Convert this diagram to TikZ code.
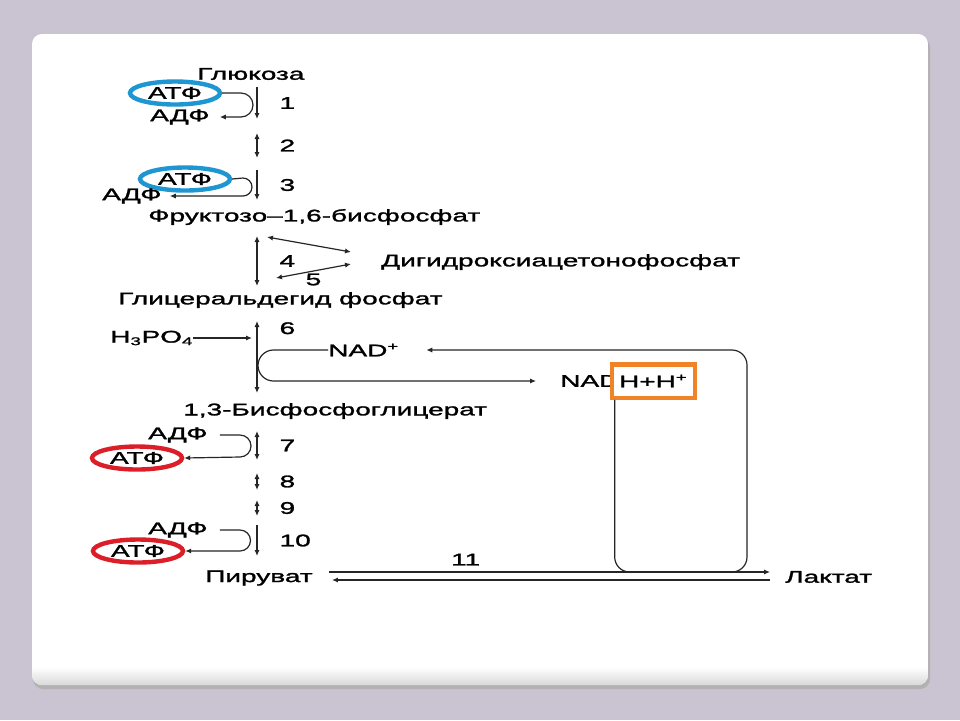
\documentclass[tikz,border=0pt]{standalone}
\usepackage{fontspec}
\setmainfont{Liberation Sans}
\newfontfamily\chemfont[FakeStretch=1.66,FakeBold=1.5]{Liberation Sans}
\usetikzlibrary{%
  arrows.meta,%
  calc,%
  positioning,%
  shapes.geometric%
}
\definecolor{slidebg}{RGB}{201,195,210}
\definecolor{ringblue}{RGB}{30,150,210}
\definecolor{ringred}{RGB}{220,30,40}
\definecolor{boxorange}{RGB}{240,130,40}
\tikzset{>={Latex[length=1.5mm,width=1.3mm]}}
\tikzset{chem/.style = {font={\chemfont\fontsize{12}{14}\selectfont}, inner sep=0pt, anchor=west},
  num/.style = {chem, right=5.5mm},
  ring/.style = {chem, anchor=center, ellipse, draw=#1, line width=1.1mm,
    minimum width=22.5mm, minimum height=5.75mm},
  flow/.style = {line width=0.85pt, draw=black!85}}

\begin{document}
\begin{tikzpicture}[x=0.25mm,y=-0.25mm]
  \useasboundingbox (0,0) rectangle (960,720);
  \fill[slidebg] (0,0) rectangle (960,720);
  \fill[black!30, rounded corners=2.5mm] (33,37) rectangle (930,689);
  \begin{scope}
    \clip[rounded corners=2.5mm] (32,34) rectangle (928,685);
    \fill[white] (32,34) rectangle (928,685);
    \shade[top color=white, bottom color=black!15] (32,667) rectangle (928,685);
  \end{scope}

  \node[chem] (glucose) at (197,74) {Глюкоза};
  \node[ring=ringblue] (atp1) at (175,93) {АТФ};
  \node[chem] (adp1) at (150,117) {АДФ};
  \draw[flow,->,shorten >=2.5mm] (atp1.east) -- (241,93)
    arc[start angle=-90,end angle=90,radius=12] -- (adp1.east);
  \draw[flow,->] (257,87) -- (257,119) node[midway,num] (n1) {1};
  \draw[flow,<->] (257,133) -- (257,158) node[midway,num] (n2) {2};

  \node[ring=ringblue] (atp2) at (185,179) {АТФ};
  \node[chem] (adp2) at (102,196) {АДФ};
  \draw[flow,->,shorten >=2mm] (atp2.east) -- (243,178)
    arc[start angle=-90,end angle=90,radius=9] -- (adp2.east);
  \draw[flow,->] (257,170) -- (257,200) node[midway,num] (n3) {3};

  \node[chem] (fbp) at (148,217) {Фруктозо–1,6-бисфосфат};
  \node[chem] (dhap) at (381,262) {Дигидроксиацетонофосфат};
  \node[chem] (gap) at (118,300) {Глицеральдегид фосфат};
  \draw[flow,<->] (257,236) -- (257,286) node[midway,num] (n4) {4};
  \draw[flow,<->] (267,237) -- ($(dhap.west)+(-30,-10)$);
  \draw[flow,<->] (276,278) -- ($(dhap.west)+(-30,2)$) node[midway,chem,below=0.5mm] (n5) {5};

  \node[chem] (phos) at (110,338) {H\textsubscript{3}PO\textsubscript{4}};
  \draw[flow,->] (phos.east) -- (252,338);
  \draw[flow,<->] (257,321) -- (257,393) node[pos=0.1,num] (n6) {6};
  \node[chem] (nad) at (328,350) {NAD\textsuperscript{+}};
  \node[chem] (nadh) at (560,381) {NAD};
  \node[chem, draw=boxorange, fill=white, line width=1.1mm, inner xsep=1.8mm, inner ysep=2.6mm,
    right=-2.5mm of nadh] (hh) {H+H\textsuperscript{+}};
  \draw[flow,->,shorten >=6mm] (nad.west) -- (273.5,350)
    arc[start angle=-90,end angle=-270,radius=15.5] -- (nadh.west);
  \draw[flow,->,rounded corners=3.75mm,shorten >=6.75mm]
    ($(hh.south west)+(5,0)$) |- (747,572) |- (nad.east);

  \node[chem] (bpg) at (183,411) {1,3-Бисфосфоглицерат};
  \node[chem] (adp7) at (148,435) {АДФ};
  \node[ring=ringred] (atp7) at (137,458) {АТФ};
  \draw[flow,->] ($(adp7.east)+(12,0)$) -- (240,435)
    arc[start angle=-90,end angle=90,radius=11] -- (atp7.east);
  \draw[flow,<->] (257,431) -- (257,460) node[midway,num] (n7) {7};
  \draw[flow,<->] (257,473) -- (257,490) node[midway,num] (n8) {8};
  \draw[flow,<->] (257,500) -- (257,516) node[midway,num] (n9) {9};

  \node[chem] (adp10) at (148,530) {АДФ};
  \node[ring=ringred] (atp10) at (138,551) {АТФ};
  \draw[flow,->] ($(adp10.east)+(12,0)$) -- (240,530)
    arc[start angle=-90,end angle=90,radius=10.5] -- (atp10.east);
  \draw[flow,->] (257,525) -- (257,556) node[midway,num] (n10) {10};

  \node[chem] (pyr) at (205,578) {Пируват};
  \node[chem] (lac) at (785,577) {Лактат};
  \draw[flow,->] ($(pyr.east)+(16,-6)$) -- ($(lac.west)+(-15,-5)$)
    node[pos=0.31,chem,above=1.5mm] (n11) {11};
  \draw[flow,->] ($(lac.west)+(-15,3)$) -- ($(pyr.east)+(19,2)$);
\end{tikzpicture}
\end{document}
